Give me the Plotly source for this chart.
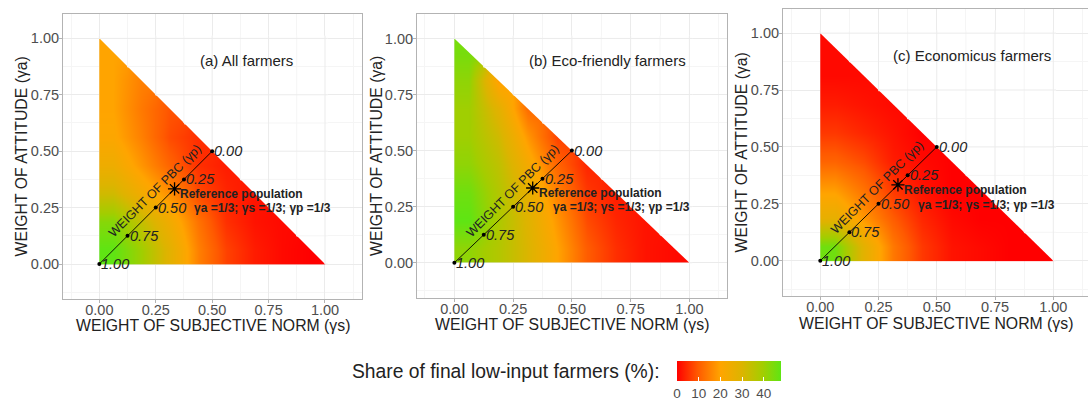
import plotly.graph_objects as go

nan = float("nan")

# Heatmap grid: cell edges along both weights (values are read at cell centres)
grid_edges = [0, 0.125, 0.25, 0.375, 0.5, 0.625, 0.75, 0.875, 1.0]

# Share of final low-input farmers (%) ; rows = weight of attitude (bottom -> top),
# columns = weight of subjective norm (left -> right); nan = outside the simplex
share_all = [
    [48, 40, 28, 15, 7, 3, 1, 0],
    [43, 34, 24, 13, 5, 2, 1, nan],
    [32, 24, 17, 8, 4, 2, nan, nan],
    [25, 18, 11, 5, 3, nan, nan, nan],
    [21, 15, 8, 5, nan, nan, nan, nan],
    [20, 14, 9, nan, nan, nan, nan, nan],
    [20, 15, nan, nan, nan, nan, nan, nan],
    [20, nan, nan, nan, nan, nan, nan, nan],
]
share_eco = [
    [42, 37, 30, 20, 10, 5, 2, 1],
    [48, 38, 29, 18, 8, 4, 2, nan],
    [46, 37, 27, 15, 6, 3, nan, nan],
    [42, 35, 23, 11, 4, nan, nan, nan],
    [40, 32, 18, 7, nan, nan, nan, nan],
    [40, 28, 12, nan, nan, nan, nan, nan],
    [42, 19, nan, nan, nan, nan, nan, nan],
    [45, nan, nan, nan, nan, nan, nan, nan],
]
share_econ = [
    [46, 28, 14, 6, 2, 1, 0, 0],
    [27, 18, 10, 4, 1, 0, 0, nan],
    [19, 13, 6, 2, 0, 0, nan, nan],
    [11, 8, 3, 1, 0, nan, nan, nan],
    [6, 4, 2, 0, nan, nan, nan, nan],
    [3, 2, 1, nan, nan, nan, nan, nan],
    [1, 1, nan, nan, nan, nan, nan, nan],
    [1, nan, nan, nan, nan, nan, nan, nan],
]
panel_titles = ["(a) All farmers", "(b) Eco-friendly farmers", "(c) Economicus farmers"]

pbc_weights = [1.00, 0.75, 0.50, 0.25, 0.00]
ref_weight = 1 / 3
axis_ticks = [0, 0.25, 0.5, 0.75, 1.0]
minor_ticks = [0.125, 0.375, 0.625, 0.875]
legend_ticks = [0, 10, 20, 30, 40]

W, H = 1088, 405
layouts = [
    dict(xd=[63 / W, 362 / W], yd=[1 - 299 / H, 1 - 14 / H], xr=[-0.161, 1.164], yr=[-0.155, 1.108],
         ytx=21 / W, xty=1 - 325.5 / H),
    dict(xd=[417 / W, 727 / W], yd=[1 - 298 / H, 1 - 14 / H], xr=[-0.159, 1.160], yr=[-0.157, 1.109],
         ytx=376 / W, xty=1 - 324.5 / H),
    dict(xd=[783 / W, 1.0], yd=[1 - 296 / H, 1 - 9 / H], xr=[-0.16, 1.149], yr=[-0.155, 1.106],
         ytx=741 / W, xty=1 - 323.5 / H),
]
data_sets = [share_all, share_eco, share_econ]

GRID_MAJOR = "#ebebeb"
GRID_MINOR = "#f5f5f5"
TXT = "#222222"
FONT = "Liberation Sans, Arial, sans-serif"

fig = go.Figure()
annotations = []

for k in range(3):
    n = k + 1
    xa = "x" if n == 1 else f"x{n}"
    ya = "y" if n == 1 else f"y{n}"
    lay = layouts[k]

    fig.add_trace(go.Heatmap(
        x=grid_edges, y=grid_edges, z=data_sets[k], coloraxis="coloraxis",
        zsmooth="best", hoverinfo="skip", xaxis=xa, yaxis=ya))

    # white cover above the hypotenuse
    fig.add_trace(go.Scatter(
        x=[0, 0, 1.012, 1.012, 1, 0], y=[1, 1.012, 1.012, 0, 0, 1],
        mode="lines", fill="toself", fillcolor="white", line=dict(width=0),
        hoverinfo="skip", showlegend=False, xaxis=xa, yaxis=ya))

    # grid lines inside the covered region
    for vals, col in ((minor_ticks, GRID_MINOR), (axis_ticks, GRID_MAJOR)):
        gx, gy = [], []
        for c in vals:
            gx += [c, c, None]
            gy += [max(1 - c, 0), 1.012, None]
            gx += [max(1 - c, 0), 1.012, None]
            gy += [c, c, None]
        fig.add_trace(go.Scatter(x=gx, y=gy, mode="lines", line=dict(color=col, width=1),
                                 hoverinfo="skip", showlegend=False, xaxis=xa, yaxis=ya))

    # PBC axis along the diagonal
    pos = [(1 - w) / 2 for w in pbc_weights]
    fig.add_trace(go.Scatter(x=[min(pos), max(pos)], y=[min(pos), max(pos)], mode="lines",
                             line=dict(color="black", width=0.9), hoverinfo="skip",
                             showlegend=False, xaxis=xa, yaxis=ya))
    fig.add_trace(go.Scatter(x=pos, y=pos, mode="markers",
                             marker=dict(color="black", size=4), hoverinfo="skip",
                             showlegend=False, xaxis=xa, yaxis=ya))
    fig.add_trace(go.Scatter(x=[ref_weight], y=[ref_weight], mode="markers",
                             marker=dict(symbol="asterisk-open", size=11, color="black",
                                         line=dict(color="black", width=1.3)),
                             hoverinfo="skip", showlegend=False, xaxis=xa, yaxis=ya))

    for w, p in zip(pbc_weights, pos):
        annotations.append(dict(x=p, y=p, xref=xa, yref=ya, text=f"<i>{w:.2f}</i>",
                                showarrow=False, xanchor="left", yanchor="middle", xshift=0,
                                font=dict(size=14.5, color=TXT, family=FONT)))
    annotations.append(dict(x=0.247, y=0.322, xref=xa, yref=ya, text="WEIGHT OF PBC (γp)",
                            showarrow=False, textangle=-45,
                            font=dict(size=12.5, color=TXT, family=FONT)))
    annotations.append(dict(x=0.35, y=0.31, xref=xa, yref=ya, text="<b>Reference population</b>",
                            showarrow=False, xanchor="left", yanchor="middle",
                            font=dict(size=12, color=TXT, family=FONT)))
    annotations.append(dict(x=0.409, y=0.247, xref=xa, yref=ya,
                            text="<b>γa =1/3; γs =1/3; γp =1/3</b>",
                            showarrow=False, xanchor="left", yanchor="middle",
                            font=dict(size=12, color=TXT, family=FONT)))
    annotations.append(dict(x=0.65, y=0.90, xref=xa, yref=ya, text=panel_titles[k],
                            showarrow=False, xanchor="center", yanchor="middle",
                            font=dict(size=15, color=TXT, family=FONT)))
    # axis titles
    annotations.append(dict(x=(lay["xd"][0] + lay["xd"][1]) / 2, y=lay["xty"], xref="paper", yref="paper",
                            text="WEIGHT OF SUBJECTIVE NORM (γs)", showarrow=False,
                            xanchor="center", yanchor="middle",
                            font=dict(size=15.8, color=TXT, family=FONT)))
    annotations.append(dict(x=lay["ytx"], y=(lay["yd"][0] + lay["yd"][1]) / 2, xref="paper", yref="paper",
                            text="WEIGHT OF ATTITUDE (γa)", showarrow=False, textangle=-90,
                            xanchor="center", yanchor="middle",
                            font=dict(size=15.8, color=TXT, family=FONT)))

    axis_common = dict(
        showline=True, mirror=True, linecolor="#b3b3b3", linewidth=1,
        ticks="outside", ticklen=3, tickcolor="#b3b3b3", tickwidth=1,
        tickvals=axis_ticks, ticktext=[f"{v:.2f}" for v in axis_ticks],
        tickfont=dict(size=14.5, color="#4d4d4d", family=FONT),
        showgrid=True, gridcolor=GRID_MAJOR, gridwidth=1, zeroline=False,
        minor=dict(tickvals=[-0.125] + minor_ticks + [1.125], showgrid=True,
                   gridcolor=GRID_MINOR, gridwidth=1, ticks=""),
        fixedrange=True,
    )
    fig.layout[f"xaxis{'' if n == 1 else n}"] = dict(
        domain=lay["xd"], range=lay["xr"], anchor=ya, ticklabelstandoff=-5, **axis_common)
    fig.layout[f"yaxis{'' if n == 1 else n}"] = dict(
        domain=lay["yd"], range=lay["yr"], anchor=xa, ticklabelstandoff=-3, **axis_common)

annotations.append(dict(x=662 / W, y=1 - 371 / H, xref="paper", yref="paper",
                        text="Share of final low-input farmers (%):", showarrow=False,
                        xanchor="right", yanchor="middle",
                        font=dict(size=19.3, color=TXT, family=FONT)))

fig.update_layout(
    width=W, height=H, margin=dict(l=0, r=0, t=0, b=0),
    paper_bgcolor="white", plot_bgcolor="white",
    font=dict(family=FONT),
    showlegend=False,
    annotations=annotations,
    coloraxis=dict(
        cmin=0, cmax=48,
        colorscale=[[0, "#FF0000"], [0.2, "#FF5A00"], [0.42, "#FFA500"],
                    [0.62, "#DDB400"], [0.82, "#A5CD00"], [1, "#5FE513"]],
        colorbar=dict(orientation="h", x=729 / W, xanchor="center", y=1 - 361 / H, yanchor="top",
                      len=104 / W, lenmode="fraction", thickness=20, outlinewidth=0,
                      xpad=0, ypad=0, tickvals=legend_ticks, ticks="inside",
                      tickcolor="white", ticklen=4,
                      tickfont=dict(size=13.5, color="#4d4d4d", family=FONT)),
    ),
)

fig.write_html("out.html", config={"displayModeBar": False},
               post_script="document.body.style.margin='0';")
